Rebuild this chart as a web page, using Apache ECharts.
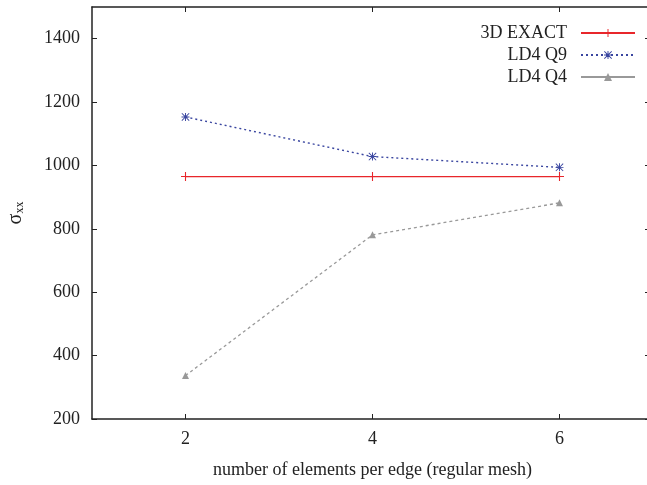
<!DOCTYPE html>
<html>
<head>
<meta charset="utf-8">
<script src="https://cdn.jsdelivr.net/npm/echarts@6/dist/echarts.min.js"></script>
<style>
  html, body { margin: 0; padding: 0; background: #fff; }
  #chart { width: 647px; height: 485px; }
</style>
</head>
<body>
<div id="chart"></div>
<script>
// data
var meshSizes = [2, 4, 6];
var exact3D = [965, 965, 965];
var ld4q9 = [1153, 1028, 994];
var ld4q4 = [337, 781, 882];
var yTicks = [200, 400, 600, 800, 1000, 1200, 1400];

var serif = "Liberation Serif";

// marker shapes
var plusPath = "path://M4.4,0H5.6V4.4H10V5.6H5.6V10H4.4V5.6H0V4.4H4.4Z";
var starPath = "path://M4.4,0H5.6V4.4H10V5.6H5.6V10H4.4V5.6H0V4.4H4.4Z" +
  "M0.8,0L5,4.2L9.2,0L10,0.8L5.8,5L10,9.2L9.2,10L5,5.8L0.8,10L0,9.2L4.2,5L0,0.8Z";

function pairs(xs, ys) {
  return xs.map(function (x, i) { return [x, ys[i]]; });
}

var chart = echarts.init(document.getElementById("chart"));

var axisLine = { show: true, lineStyle: { color: "#222", width: 1.5 } };
function ticks(vals, len) {
  return { show: true, inside: true, length: len || 5, customValues: vals, lineStyle: { color: "#222", width: 1 } };
}
function plain(v) { return String(v); }

var option = {
  animation: false,
  backgroundColor: "#fff",
  textStyle: { fontFamily: serif },
  grid: { left: 92, top: 7, width: 561, bottom: 66, outerBoundsMode: "none", containLabel: false },
  legend: {
    right: 6,
    top: 19,
    orient: "vertical",
    align: "right",
    itemGap: 4,
    itemWidth: 54,
    itemHeight: 10,
    textStyle: { fontFamily: serif, fontSize: 18, color: "#222", padding: [0, 9, 0, 0] },
    data: [
      { name: "3D EXACT" },
      { name: "LD4 Q9" },
      { name: "LD4 Q4", lineStyle: { type: "solid" } }
    ]
  },
  xAxis: [
    {
      type: "value",
      min: 1,
      max: 7,
      position: "bottom",
      axisLine: axisLine,
      axisTick: ticks(meshSizes),
      splitLine: { show: false },
      axisLabel: {
        fontFamily: serif, fontSize: 18, color: "#222", margin: 11,
        customValues: meshSizes, formatter: plain
      },
      name: "number of elements per edge (regular mesh)",
      nameLocation: "middle",
      nameGap: 42,
      nameTextStyle: { fontFamily: serif, fontSize: 18, color: "#222" }
    },
    {
      type: "value",
      min: 1,
      max: 7,
      position: "top",
      axisLine: axisLine,
      axisTick: ticks(meshSizes),
      axisLabel: { show: false },
      splitLine: { show: false }
    }
  ],
  yAxis: [
    {
      type: "value",
      min: 200,
      max: 1500,
      axisLine: axisLine,
      axisTick: ticks(yTicks),
      splitLine: { show: false },
      axisLabel: {
        fontFamily: serif, fontSize: 18, color: "#222", margin: 12,
        customValues: yTicks, formatter: plain
      },
      name: "{a|σ}{b|xx}",
      nameLocation: "middle",
      nameRotate: 90,
      nameGap: 66,
      nameTextStyle: {
        rich: {
          a: { fontFamily: serif, fontSize: 20, color: "#222" },
          b: { fontFamily: serif, fontSize: 12, color: "#222", padding: [9, 0, 0, 0] }
        }
      }
    },
    {
      type: "value",
      min: 200,
      max: 1500,
      position: "right",
      axisLine: { show: false },
      axisTick: ticks(yTicks, 8),
      axisLabel: { show: false },
      splitLine: { show: false }
    }
  ],
  series: [
    {
      name: "3D EXACT",
      type: "line",
      data: pairs(meshSizes, exact3D),
      symbol: plusPath,
      symbolSize: 9,
      lineStyle: { color: "#e8262b", width: 1.2, type: "solid" },
      itemStyle: { color: "#e8262b" }
    },
    {
      name: "LD4 Q9",
      type: "line",
      data: pairs(meshSizes, ld4q9),
      symbol: starPath,
      symbolSize: 8,
      lineStyle: { color: "#3a46a0", width: 1.4, type: [2, 3] },
      itemStyle: { color: "#3a46a0" }
    },
    {
      name: "LD4 Q4",
      type: "line",
      data: pairs(meshSizes, ld4q4),
      symbol: "triangle",
      symbolSize: 7,
      lineStyle: { color: "#999", width: 1.3, type: [3, 3] },
      itemStyle: { color: "#999" }
    }
  ]
};

chart.setOption(option);
</script>
</body>
</html>
